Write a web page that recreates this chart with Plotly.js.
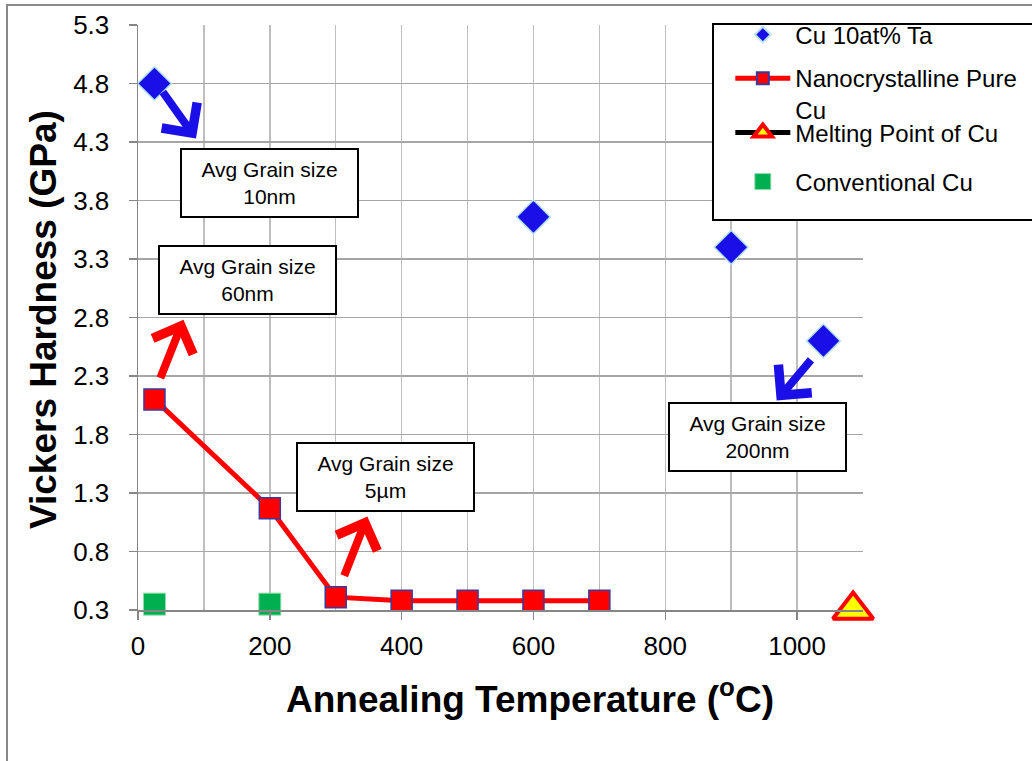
<!DOCTYPE html>
<html>
<head>
<meta charset="utf-8">
<script src="https://cdn.plot.ly/plotly-3.0.1.min.js"></script>
<style>
  html, body { margin: 0; padding: 0; background: #ffffff; overflow: hidden; }
  #frame { position: absolute; left: 6px; top: 4px; width: 1100px; height: 900px; border: 2px solid #898989; }
  #chart { position: absolute; left: 0; top: 0; width: 1032px; height: 761px; }
</style>
</head>
<body>
<div id="frame"></div>
<div id="chart"></div>
<script>
// ---- data ----
const seriesNames = ["Cu 10at% Ta", "Nanocrystalline Pure<br>Cu", "Melting Point of Cu", "Conventional Cu"];

const cuTaTemp = [25, 600, 900, 1040];
const cuTaHard = [4.8, 3.66, 3.40, 2.60];

const nanoCuTemp = [25, 200, 300, 400, 500, 600, 700];
const nanoCuHard = [2.10, 1.17, 0.41, 0.38, 0.38, 0.38, 0.38];

const meltTemp = [1085];
const meltHard = [0.3];

const convCuTemp = [25, 200];
const convCuHard = [0.35, 0.35];

const yTickVals = [0.3, 0.8, 1.3, 1.8, 2.3, 2.8, 3.3, 3.8, 4.3, 4.8, 5.3];
const xTickVals = [0, 200, 400, 600, 800, 1000];

const grainLabels = ["Avg Grain size<br>10nm", "Avg Grain size<br>60nm", "Avg Grain size<br>5\u00b5m", "Avg Grain size<br>200nm"];
// label box centres (data units)
const grainBoxX = [200, 166, 376, 940];
const grainBoxY = [3.95, 3.12, 1.44, 1.78];
// arrows: tail -> tip (data units)
const arrowTailX = [36, 33, 312, 1023];
const arrowTailY = [4.74, 2.27, 0.58, 2.45];
const arrowTipX = [88, 69, 348, 969];
const arrowTipY = [4.33, 2.78, 1.10, 2.09];
const arrowColors = ["#1a0fe6", "#ff0000", "#ff0000", "#1a0fe6"];

const FONT = "Arial, 'Liberation Sans', sans-serif";

const traces = [
  {
    x: cuTaTemp, y: cuTaHard, name: seriesNames[0], type: "scatter", mode: "markers",
    marker: { symbol: "diamond", size: 26, color: "#1a0fe6", line: { color: "#b4e2ea", width: 1.5 } },
    cliponaxis: false, legend: "legend"
  },
  {
    x: nanoCuTemp, y: nanoCuHard, name: seriesNames[1], type: "scatter", mode: "lines+markers",
    line: { color: "#ff0000", width: 5 },
    marker: { symbol: "square", size: 21, color: "#ff0000", line: { color: "#3a3a9e", width: 1.5 } },
    cliponaxis: false, legend: "legend2"
  },
  {
    x: meltTemp, y: meltHard, name: seriesNames[2], type: "scatter", mode: "lines+markers",
    line: { color: "#000000", width: 5 },
    marker: { symbol: "triangle-up", size: 35, color: "#ffff00", line: { color: "#ff0000", width: 4 } },
    cliponaxis: false, legend: "legend3"
  },
  {
    x: convCuTemp, y: convCuHard, name: seriesNames[3], type: "scatter", mode: "markers",
    marker: { symbol: "square", size: 22, color: "#00b050", line: { color: "#8fdcaa", width: 1 } },
    cliponaxis: false, legend: "legend4"
  }
];

const annotations = [];
for (let i = 0; i < grainLabels.length; i++) {
  annotations.push({
    x: grainBoxX[i], y: grainBoxY[i], xref: "x", yref: "y",
    text: grainLabels[i], showarrow: false,
    font: { family: FONT, size: 21, color: "#000000" },
    bgcolor: "#ffffff", bordercolor: "#000000", borderwidth: 2, borderpad: 0,
    width: 175, height: 66, align: "center", valign: "middle"
  });
}
for (let i = 0; i < arrowTipX.length; i++) {
  annotations.push({
    x: arrowTipX[i], y: arrowTipY[i], xref: "x", yref: "y",
    ax: arrowTailX[i], ay: arrowTailY[i], axref: "x", ayref: "y",
    text: "", showarrow: true, arrowhead: 4, arrowsize: 1.05, arrowwidth: 8,
    arrowcolor: arrowColors[i], standoff: 0, startstandoff: 0
  });
}
// axis titles
annotations.push({
  xref: "paper", yref: "paper", x: 0.5411, y: -0.1487, xanchor: "center", yanchor: "middle",
  text: "Annealing Temperature (<sup>o</sup>C)", showarrow: false,
  font: { family: FONT, size: 37, color: "#000000", weight: 700 }
});
annotations.push({
  xref: "paper", yref: "paper", x: -0.131, y: 0.4957, xanchor: "center", yanchor: "middle",
  text: "Vickers Hardness (GPa)", showarrow: false, textangle: -90,
  font: { family: FONT, size: 37, color: "#000000", weight: 700 }
});

const legendBase = {
  x: 0.817, xanchor: "left", yanchor: "middle",
  bgcolor: "rgba(0,0,0,0)", borderwidth: 0,
  font: { family: FONT, size: 24, color: "#000000" },
  itemwidth: 55, itemsizing: "constant", valign: "top"
};

const layout = {
  width: 1032, height: 761,
  margin: { l: 138, r: 169, t: 25, b: 151, pad: 0, autoexpand: false },
  paper_bgcolor: "rgba(0,0,0,0)",
  plot_bgcolor: "#ffffff",
  font: { family: FONT, color: "#000000" },
  showlegend: true,
  legend: Object.assign({}, legendBase, { y: 0.9829 }),
  legend2: Object.assign({}, legendBase, { y: 0.882 }),
  legend3: Object.assign({}, legendBase, { y: 0.8154, itemsizing: "trace" }),
  legend4: Object.assign({}, legendBase, { y: 0.7316, itemsizing: "trace" }),
  xaxis: {
    range: [0, 1100], tickmode: "array", tickvals: xTickVals, ticktext: xTickVals.map(String),
    showgrid: true, gridcolor: "#bebebe", gridwidth: 1.5,
    minor: { dtick: 100, tick0: 0, showgrid: true, gridcolor: "#bebebe", gridwidth: 1.5, ticks: "" },
    showline: true, linecolor: "#868686", linewidth: 1.5,
    ticks: "outside", ticklen: 8, tickwidth: 1.5, tickcolor: "#868686",
    tickfont: { family: FONT, size: 26, color: "#000000" },
    ticklabelstandoff: 4, zeroline: false, fixedrange: true, automargin: false
  },
  yaxis: {
    range: [0.3, 5.3], tickmode: "array", tickvals: yTickVals, ticktext: yTickVals.map(v => v.toFixed(1)),
    showgrid: true, gridcolor: "#a6a6a6", gridwidth: 1.5,
    showline: true, linecolor: "#868686", linewidth: 1.5,
    ticks: "outside", ticklen: 8, tickwidth: 1.5, tickcolor: "#868686",
    tickfont: { family: FONT, size: 26, color: "#000000" },
    ticklabelstandoff: 14, zeroline: false, fixedrange: true, automargin: false
  },
  shapes: [
    {
      type: "path", xref: "paper", yref: "paper",
      path: "M 1.3,1.0017 L 0.7931,1.0017 L 0.7931,0.6667 L 1.3,0.6667",
      line: { color: "#000000", width: 2 }, fillcolor: "#ffffff", layer: "above"
    }
  ],
  annotations: annotations
};

Plotly.newPlot("chart", traces, layout, { displayModeBar: false, staticPlot: true });
</script>
</body>
</html>
